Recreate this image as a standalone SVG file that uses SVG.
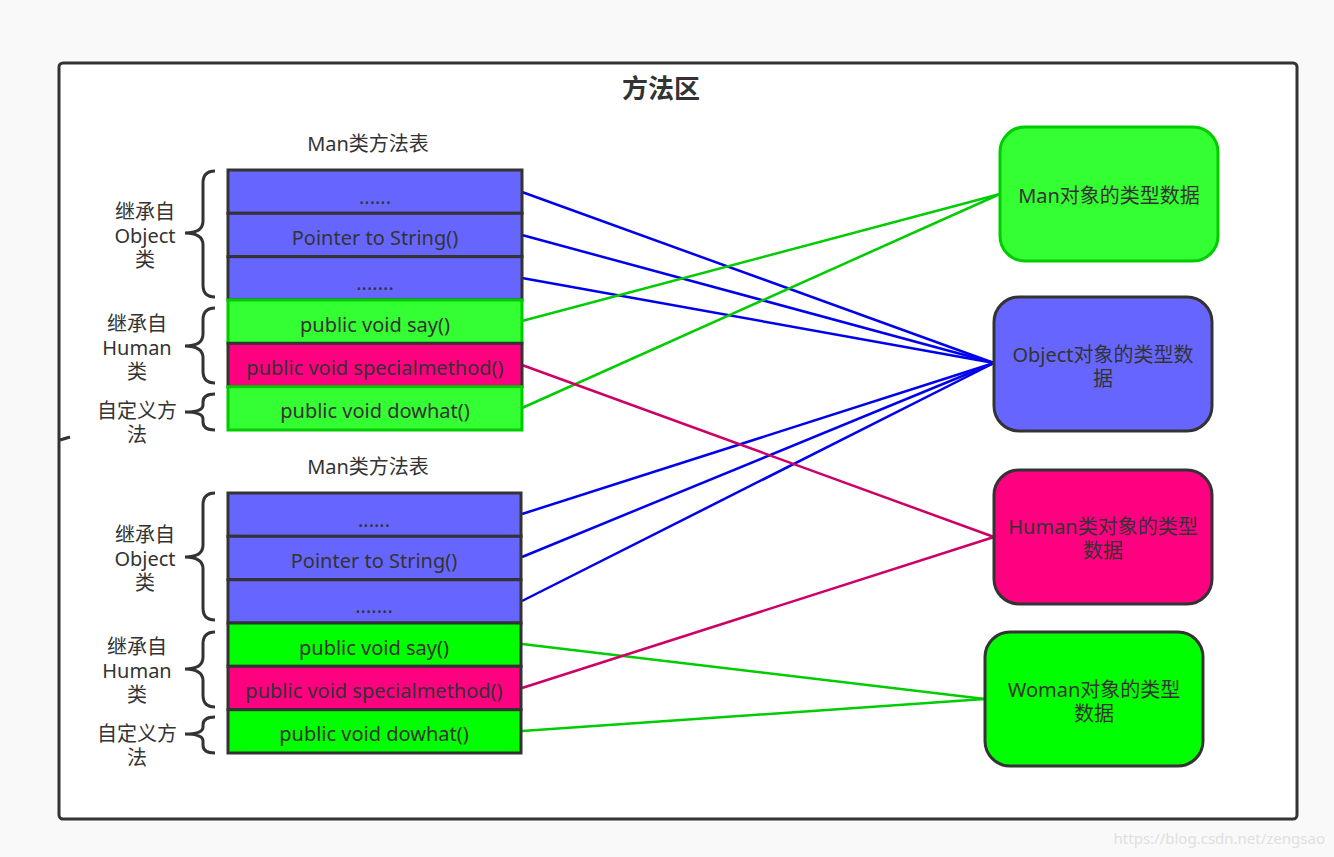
<svg xmlns="http://www.w3.org/2000/svg" width="1334" height="857" viewBox="0 0 1334 857">
<style>
text{font-family:"Noto Sans","Noto Sans CJK SC",sans-serif;fill:#333;}
.t{font-size:20px;text-anchor:middle;}
.lbl{font-size:20px;text-anchor:middle;}
.row{stroke:#333;stroke-width:3;}
.blue{fill:#6666ff;}
.g1{fill:#33ff33;stroke:#00cc00;}
.g2{fill:#00ff00;}
.pink{fill:#ff0080;}
.brace{fill:none;stroke:#333;stroke-width:3;}
.cb{stroke:#0000ee;stroke-width:2.5;fill:none;}
.cg{stroke:#00cc00;stroke-width:2.5;fill:none;}
.cp{stroke:#cc0066;stroke-width:2.5;fill:none;}
.node{stroke:#333;stroke-width:3;}
</style>
<rect x="0" y="0" width="1334" height="857" fill="#f9f9f9"/>
<g id="container">
<rect x="59" y="63" width="1238" height="756" rx="4" fill="#fff" stroke="#333" stroke-width="3"/>
<path d="M60 440 L70 437" stroke="#333" stroke-width="3"/>
<text x="661" y="98" style="font-size:26px;font-weight:bold;text-anchor:middle">方法区</text>
</g>
<g id="connectors">
<line class="cb" x1="522" y1="192" x2="994" y2="363"/>
<line class="cb" x1="522" y1="235" x2="994" y2="363"/>
<line class="cb" x1="522" y1="278" x2="994" y2="363"/>
<line class="cb" x1="522" y1="514" x2="994" y2="363"/>
<line class="cb" x1="522" y1="557" x2="994" y2="363"/>
<line class="cb" x1="522" y1="601" x2="994" y2="363"/>
<line class="cg" x1="522" y1="321" x2="1000" y2="194"/>
<line class="cg" x1="522" y1="408" x2="1000" y2="194"/>
<line class="cg" x1="522" y1="644" x2="985" y2="699"/>
<line class="cg" x1="522" y1="731" x2="985" y2="699"/>
<line class="cp" x1="522" y1="365" x2="994" y2="537"/>
<line class="cp" x1="522" y1="688" x2="994" y2="537"/>
</g>
<g id="table1">
<text class="t" x="368" y="151">Man类方法表</text>
<rect class="row blue" x="228" y="170" width="294" height="43.3"/>
<rect class="row blue" x="228" y="213.3" width="294" height="43.3"/>
<rect class="row blue" x="228" y="256.7" width="294" height="43.3"/>
<rect class="row g1" x="228" y="300" width="294" height="43.3"/>
<rect class="row pink" x="228" y="343.3" width="294" height="43.3"/>
<rect class="row g1" x="228" y="386.7" width="294" height="43.3"/>
<text class="t" x="375" y="204">......</text>
<text class="t" x="375" y="245">Pointer to String()</text>
<text class="t" x="375" y="290">.......</text>
<text class="t" x="375" y="332">public void say()</text>
<text class="t" x="375" y="375">public void specialmethod()</text>
<text class="t" x="375" y="418">public void dowhat()</text>
</g>
<g id="table2">
<text class="t" x="368" y="474">Man类方法表</text>
<rect class="row blue" x="228" y="493" width="293" height="43.3"/>
<rect class="row blue" x="228" y="536.3" width="293" height="43.3"/>
<rect class="row blue" x="228" y="579.7" width="293" height="43.3"/>
<rect class="row g2" x="228" y="623" width="293" height="43.3"/>
<rect class="row pink" x="228" y="666.3" width="293" height="43.3"/>
<rect class="row g2" x="228" y="709.7" width="293" height="43.3"/>
<text class="t" x="374" y="527">......</text>
<text class="t" x="374" y="568">Pointer to String()</text>
<text class="t" x="374" y="613">.......</text>
<text class="t" x="374" y="655">public void say()</text>
<text class="t" x="374" y="698">public void specialmethod()</text>
<text class="t" x="374" y="741">public void dowhat()</text>
</g>
<g id="braces1">
<path class="brace" d="M215 171 Q203 171 203 183 L203 221 Q203 233 185 233 Q203 233 203 245 L203 285 Q203 297 215 297"/>
<path class="brace" d="M215 308 Q203 308 203 320 L203 334 Q203 346 185 346 Q203 346 203 358 L203 371 Q203 383 215 383"/>
<path class="brace" d="M215 394 Q203 394 203 402 L203 405 Q203 412 185 412 Q203 412 203 419 L203 422 Q203 430 215 430"/>
<text class="lbl" x="145" y="219">继承自</text>
<text class="lbl" x="145" y="243">Object</text>
<text class="lbl" x="145" y="267">类</text>
<text class="lbl" x="137" y="331">继承自</text>
<text class="lbl" x="137" y="355">Human</text>
<text class="lbl" x="137" y="379">类</text>
<text class="lbl" x="137" y="418">自定义方</text>
<text class="lbl" x="137" y="442">法</text>
</g>
<g id="braces2">
<path class="brace" d="M215 493 Q203 493 203 505 L203 545 Q203 557 185 557 Q203 557 203 569 L203 608 Q203 620 215 620"/>
<path class="brace" d="M215 632 Q203 632 203 644 L203 657 Q203 669 185 669 Q203 669 203 681 L203 695 Q203 707 215 707"/>
<path class="brace" d="M215 717 Q203 717 203 725 L203 727 Q203 734 185 734 Q203 734 203 741 L203 745 Q203 753 215 753"/>
<text class="lbl" x="145" y="542">继承自</text>
<text class="lbl" x="145" y="566">Object</text>
<text class="lbl" x="145" y="590">类</text>
<text class="lbl" x="137" y="654">继承自</text>
<text class="lbl" x="137" y="678">Human</text>
<text class="lbl" x="137" y="702">类</text>
<text class="lbl" x="137" y="741">自定义方</text>
<text class="lbl" x="137" y="765">法</text>
</g>
<g id="node-man">
<rect x="1000" y="127" width="218" height="134" rx="25" fill="#33ff33" stroke="#00cc00" stroke-width="3"/>
<text class="t" x="1109" y="203">Man对象的类型数据</text>
</g>
<g id="node-object">
<rect class="node" x="994" y="297" width="218" height="134" rx="25" fill="#6666ff"/>
<text class="t" x="1103" y="362">Object对象的类型数</text>
<text class="t" x="1103" y="386">据</text>
</g>
<g id="node-human">
<rect class="node" x="994" y="470" width="218" height="134" rx="25" fill="#ff0080"/>
<text class="t" x="1103" y="534">Human类对象的类型</text>
<text class="t" x="1103" y="558">数据</text>
</g>
<g id="node-woman">
<rect class="node" x="985" y="632" width="218" height="134" rx="25" fill="#00ff00"/>
<text class="t" x="1094" y="697">Woman对象的类型</text>
<text class="t" x="1094" y="721">数据</text>
</g>
<text x="1325" y="844" style="font-size:15px;text-anchor:end;fill:#e0e0e0">https://blog.csdn.net/zengsao</text>
</svg>
